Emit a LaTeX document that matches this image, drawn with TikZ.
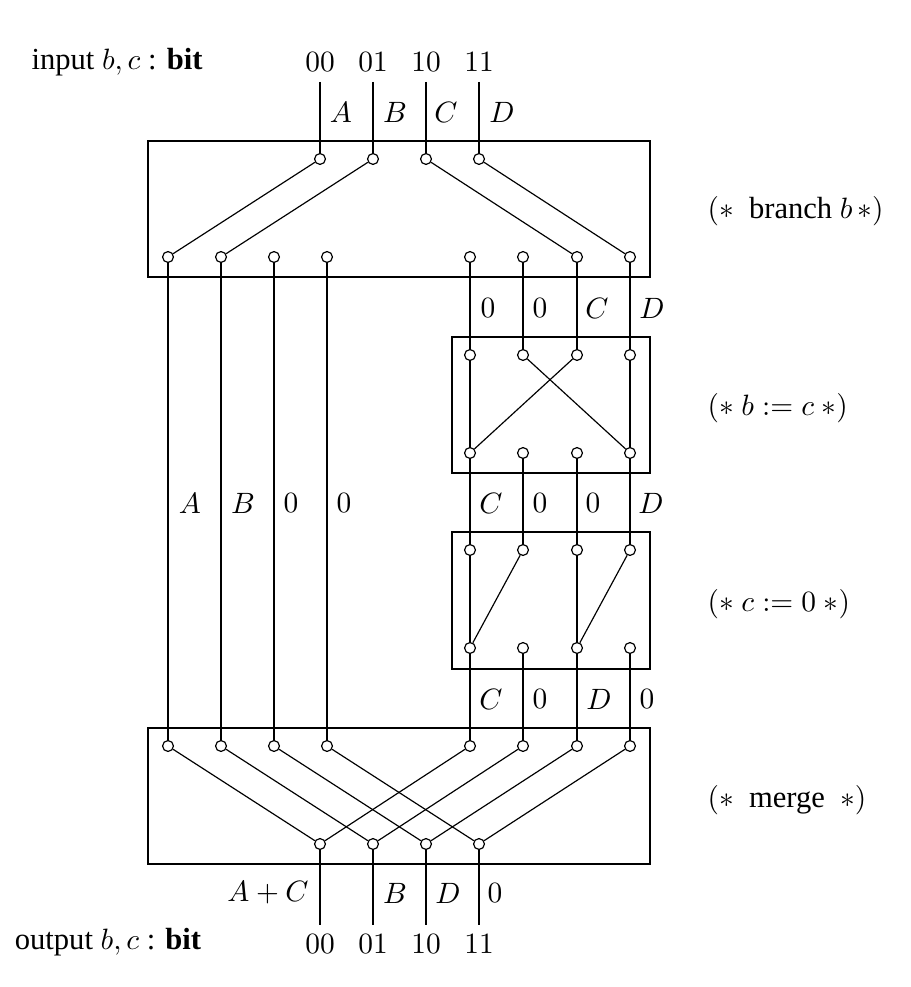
\documentclass[tikz,border=0pt]{standalone}
\usepackage{fontspec}
\setmainfont{Liberation Serif}
\begin{document}
\begin{tikzpicture}[x=0.34pt,y=-0.34pt,
  every node/.style={font=\fontsize{10.4}{12}\selectfont},
  pin/.style={circle,draw,fill=white,inner sep=0pt,minimum size=3.7pt,line width=0.4pt},
  wire/.style={line width=0.4pt},
  bwire/.style={line width=0.9pt},
  box/.style={draw,line width=0.4pt},
  bbox/.style={draw,line width=0.8pt},
  lab/.style={inner sep=0pt}]
\useasboundingbox (0,0) rectangle (910,987);
% boxes
\draw[box] (148,141) rectangle (650,277);
\draw[bbox] (452,337) rectangle (650,473);
\draw[bbox] (452,532) rectangle (650,669);
\draw[box] (148,728) rectangle (650,864);
% input coordinates
\foreach \i/\x in {1/320,2/373,3/426,4/479}{
  \coordinate (in\i) at (\x,82);
  \coordinate (out\i) at (\x,925);
}
% box1 pins
\foreach \i/\x in {1/320,2/373,3/426,4/479}{\node[pin] (a\i) at (\x,159) {};}
\foreach \i/\x in {1/168,2/221,3/274,4/327,5/470,6/523,7/577,8/630}{\node[pin] (b\i) at (\x,257) {};}
% box2
\foreach \i/\x in {5/470,6/523,7/577,8/630}{\node[pin] (c\i) at (\x,355) {};\node[pin] (d\i) at (\x,453) {};}
% box3
\foreach \i/\x in {5/470,6/523,7/577,8/630}{\node[pin] (e\i) at (\x,550) {};\node[pin] (f\i) at (\x,648) {};}
% box4
\foreach \i/\x in {1/168,2/221,3/274,4/327,5/470,6/523,7/577,8/630}{\node[pin] (g\i) at (\x,746) {};}
\foreach \i/\x in {1/320,2/373,3/426,4/479}{\node[pin] (h\i) at (\x,844) {};}
% input wires
\foreach \i in {1,...,4}{\draw[wire] (in\i) -- (a\i); \draw[wire] (h\i) -- (out\i);}
% branch
\draw[wire] (a1) -- (b1); \draw[wire] (a2) -- (b2);
\draw[wire] (a3) -- (b7); \draw[wire] (a4) -- (b8);
% long verticals
\foreach \i in {1,...,4}{\draw[wire] (b\i) -- (g\i);}
% box1 -> box2
\draw[wire] (b5) -- (c5); \draw[bwire] (b6) -- (c6);
\draw[wire] (b7) -- (c7); \draw[bwire] (b8) -- (c8);
% box2 internal
\draw[wire] (c5) -- (d5); \draw[wire] (c6) -- (d8);
\draw[wire] (c7) -- (d5); \draw[bwire] (c8) -- (d8);
% box2 -> box3
\draw[wire] (d5) -- (e5); \draw[bwire] (d6) -- (e6);
\draw[wire] (d7) -- (e7); \draw[bwire] (d8) -- (e8);
% box3 internal
\draw[wire] (e5) -- (f5); \draw[wire] (e6) -- (f5);
\draw[wire] (e7) -- (f7); \draw[wire] (e8) -- (f7);
% box3 -> box4
\draw[wire] (f5) -- (g5); \draw[bwire] (f6) -- (g6);
\draw[wire] (f7) -- (g7); \draw[bwire] (f8) -- (g8);
% merge
\draw[wire] (g1) -- (h1); \draw[wire] (g2) -- (h2);
\draw[wire] (g3) -- (h3); \draw[wire] (g4) -- (h4);
\draw[wire] (g5) -- (h1); \draw[wire] (g6) -- (h2);
\draw[wire] (g7) -- (h3); \draw[wire] (g8) -- (h4);
% labels top
\node[lab] (l00) at (320,62) {$00$};
\node[lab] (l01) at (373,62) {$01$};
\node[lab] (l10) at (426,62) {$10$};
\node[lab] (l11) at (479,62) {$11$};
\node[lab] (linput) at (117,62) {input $b,c$ : \textbf{bit}};
\node[lab] (lA) at (341,112) {$A$};
\node[lab] (lB) at (395,112) {$B$};
\node[lab] (lC) at (446,112) {$C$};
\node[lab] (lD) at (502,112) {$D$};
% between box1 and box2
\node[lab] (m1) at (488,308) {$0$};
\node[lab] (m2) at (540,308) {$0$};
\node[lab] (m3) at (597,308) {$C$};
\node[lab] (m4) at (652,308) {$D$};
% middle
\node[lab] (n1) at (190,503) {$A$};
\node[lab] (n2) at (243,503) {$B$};
\node[lab] (n3) at (291,503) {$0$};
\node[lab] (n4) at (344,503) {$0$};
\node[lab] (n5) at (491,503) {$C$};
\node[lab] (n6) at (540,503) {$0$};
\node[lab] (n7) at (593,503) {$0$};
\node[lab] (n8) at (651,503) {$D$};
% between box3 and box4
\node[lab] (p1) at (491,699) {$C$};
\node[lab] (p2) at (540,699) {$0$};
\node[lab] (p3) at (599,699) {$D$};
\node[lab] (p4) at (647,699) {$0$};
% bottom
\node[lab] (q1) at (268,893) {$A+C$};
\node[lab] (q2) at (395,893) {$B$};
\node[lab] (q3) at (448,893) {$D$};
\node[lab] (q4) at (495,893) {$0$};
\node[lab] (o00) at (320,944) {$00$};
\node[lab] (o01) at (373,944) {$01$};
\node[lab] (o10) at (426,944) {$10$};
\node[lab] (o11) at (479,944) {$11$};
\node[lab] (loutput) at (108,942) {output $b,c$ : \textbf{bit}};
% comments
\node[lab,anchor=west] (k1) at (707,211) {$(\ast$\ \ branch $b\,\ast)$};
\node[lab,anchor=west] (k2) at (707,408) {$(\ast\ b:=c\ \ast)$};
\node[lab,anchor=west] (k3) at (707,604) {$(\ast\ c:=0\ \ast)$};
\node[lab,anchor=west] (k4) at (707,800) {$(\ast$\ \ merge\ \ $\ast)$};
\end{tikzpicture}
\end{document}
